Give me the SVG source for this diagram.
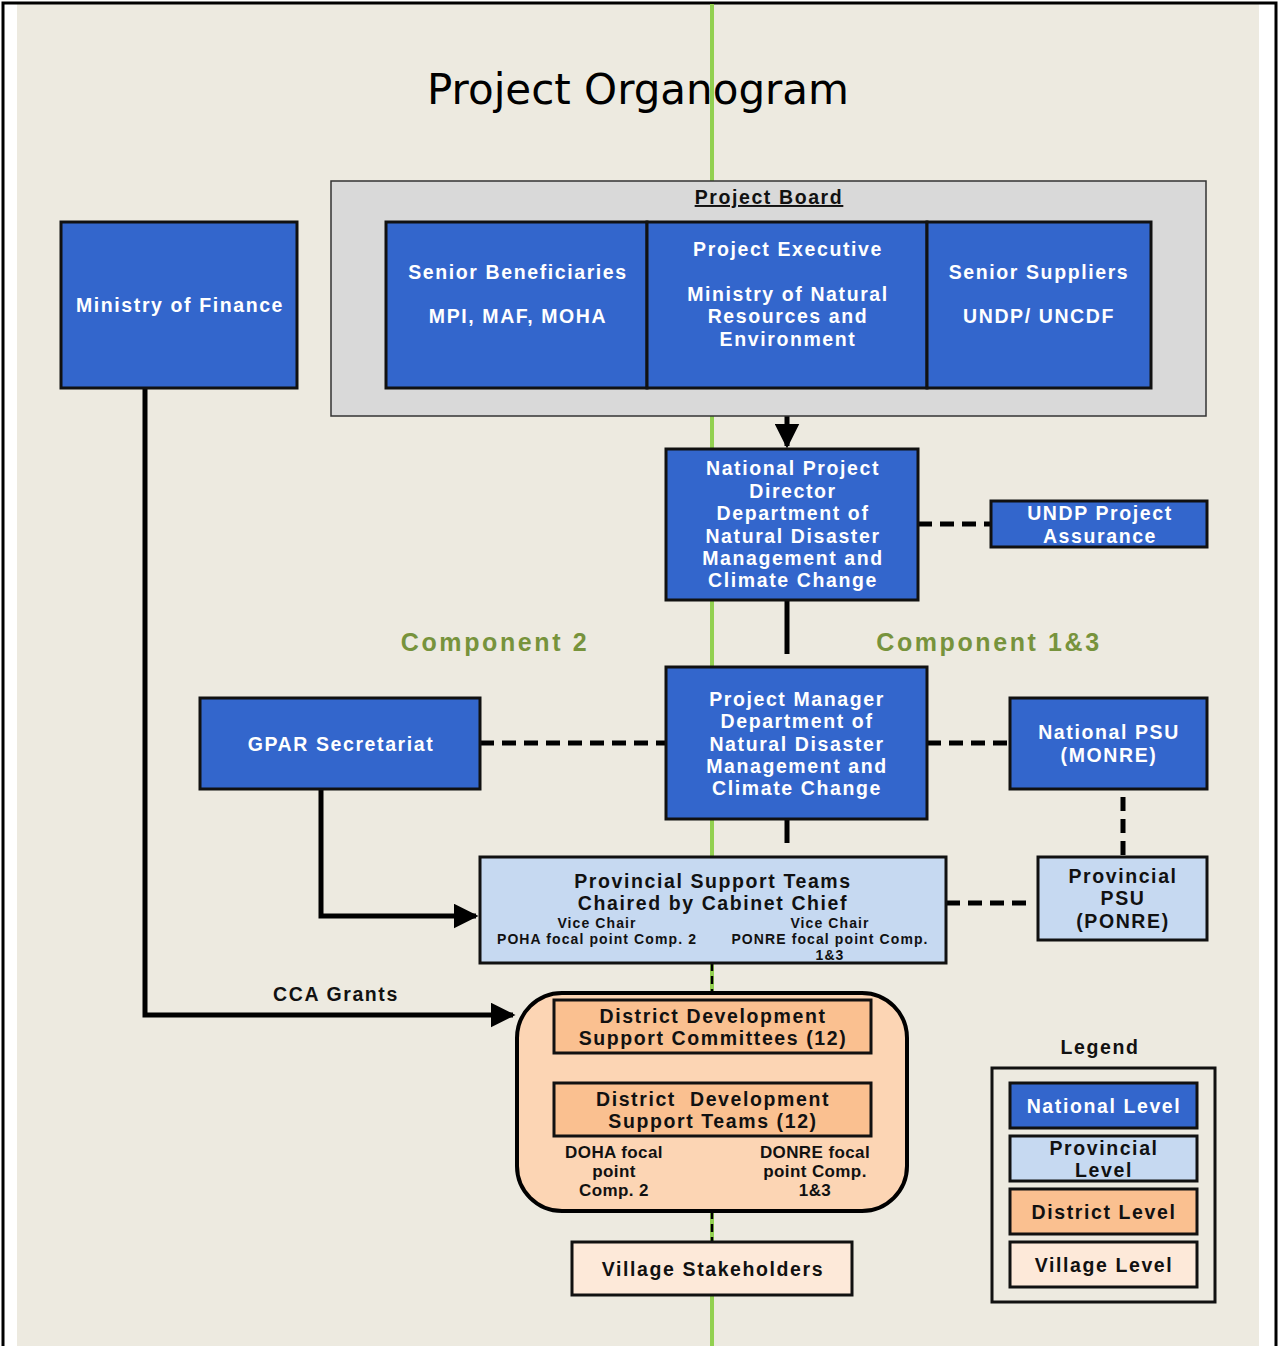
<svg xmlns="http://www.w3.org/2000/svg" width="1279" height="1346" viewBox="0 0 1279 1346">
<defs>
<style>
.t{font-family:"Liberation Sans",Arial,sans-serif;font-weight:bold;text-anchor:middle;letter-spacing:1.6px}
.w{fill:#ffffff;font-size:19.5px}
.k{fill:#111111;font-size:19.5px}
.s{fill:#111111;font-size:14px;letter-spacing:1.1px}
.f{fill:#111111;font-size:17px;letter-spacing:0.4px}
.nat{fill:#3366cc;stroke:#111;stroke-width:3}
.prov{fill:#c6d9f1;stroke:#111;stroke-width:3}
.dist{fill:#fac090;stroke:#111;stroke-width:3}
.vill{fill:#fde9d9;stroke:#111;stroke-width:3}
.solid{stroke:#000;stroke-width:5;fill:none}
.dash{stroke:#000;stroke-width:5;fill:none;stroke-dasharray:14,8}
.comp{font-family:"Liberation Sans",Arial,sans-serif;font-weight:bold;font-size:25px;fill:#77933c;text-anchor:middle;letter-spacing:2.6px}
</style>
<marker id="ah" viewBox="0 0 10 10" refX="9" refY="5" markerWidth="5" markerHeight="5" markerUnits="strokeWidth" orient="auto">
<path d="M0,0 L10,5 L0,10 z" fill="#000"/>
</marker>
</defs>
<rect x="0" y="0" width="1279" height="1346" fill="#ffffff"/>
<rect x="17" y="4" width="1242" height="1342" fill="#edeae0"/>
<path d="M3,1346 V3 H1276 V1346" fill="none" stroke="#000" stroke-width="3"/>
<line x1="712" y1="4" x2="712" y2="1346" stroke="#92d050" stroke-width="4"/>
<text x="638" y="104" font-family="DejaVu Sans,Verdana,sans-serif" font-size="42" fill="#000" text-anchor="middle">Project Organogram</text>

<g id="connectors">
<line x1="787" y1="416" x2="787" y2="446" class="solid" marker-end="url(#ah)"/>
<line x1="918" y1="524" x2="991" y2="524" class="dash"/>
<line x1="787" y1="600" x2="787" y2="654" class="solid"/>
<line x1="480" y1="743" x2="666" y2="743" class="dash"/>
<line x1="927" y1="743" x2="1010" y2="743" class="dash"/>
<line x1="787" y1="819" x2="787" y2="843" class="solid"/>
<line x1="1123" y1="797" x2="1123" y2="857" class="dash"/>
<line x1="946" y1="903" x2="1030" y2="903" class="dash"/>
<polyline points="321,789 321,916 476,916" class="solid" marker-end="url(#ah)"/>
<polyline points="145,388 145,1015 513,1015" class="solid" marker-end="url(#ah)"/>
<line x1="712" y1="963" x2="712" y2="993" stroke="#000" stroke-width="2.5" stroke-dasharray="8,5"/>
<line x1="712" y1="1053" x2="712" y2="1083" stroke="#000" stroke-width="3" stroke-dasharray="10,5"/>
<line x1="712" y1="1211" x2="712" y2="1247" stroke="#000" stroke-width="2.5" stroke-dasharray="8,5"/>
</g>
<text class="t k" x="336" y="1001">CCA Grants</text>

<g id="project-board">
<rect x="331" y="181" width="875" height="235" fill="#d9d9d9" stroke="#333" stroke-width="1.5"/>
<text class="t k" x="769" y="204" text-decoration="underline">Project Board</text>
</g>
<g id="senior-beneficiaries">
<rect x="386" y="222" width="261" height="166" class="nat"/>
<text class="t w" x="518" y="279">Senior Beneficiaries</text>
<text class="t w" x="518" y="323">MPI, MAF, MOHA</text>
</g>
<g id="project-executive">
<rect x="647" y="222" width="280" height="166" class="nat"/>
<text class="t w" x="788" y="256">Project Executive</text>
<text class="t w" x="788" y="301">Ministry of Natural</text>
<text class="t w" x="788" y="323">Resources and</text>
<text class="t w" x="788" y="346">Environment</text>
</g>
<g id="senior-suppliers">
<rect x="927" y="222" width="224" height="166" class="nat"/>
<text class="t w" x="1039" y="279">Senior Suppliers</text>
<text class="t w" x="1039" y="323">UNDP/ UNCDF</text>
</g>
<g id="ministry-of-finance">
<rect x="61" y="222" width="236" height="166" class="nat"/>
<text class="t w" x="180" y="312">Ministry of Finance</text>
</g>
<g id="npd">
<rect x="666" y="449" width="252" height="151" class="nat"/>
<text class="t w" x="793" y="475">National Project</text>
<text class="t w" x="793" y="498">Director</text>
<text class="t w" x="793" y="520">Department of</text>
<text class="t w" x="793" y="543">Natural Disaster</text>
<text class="t w" x="793" y="565">Management and</text>
<text class="t w" x="793" y="587">Climate Change</text>
</g>
<g id="undp-assurance">
<rect x="991" y="501" width="216" height="46" class="nat"/>
<text class="t w" x="1100" y="520">UNDP Project</text>
<text class="t w" x="1100" y="543">Assurance</text>
</g>
<text class="comp" x="495" y="651">Component 2</text>
<text class="comp" x="989" y="651">Component 1&amp;3</text>
<g id="project-manager">
<rect x="666" y="667" width="261" height="152" class="nat"/>
<text class="t w" x="797" y="706">Project Manager</text>
<text class="t w" x="797" y="728">Department of</text>
<text class="t w" x="797" y="751">Natural Disaster</text>
<text class="t w" x="797" y="773">Management and</text>
<text class="t w" x="797" y="795">Climate Change</text>
</g>
<g id="gpar">
<rect x="200" y="698" width="280" height="91" class="nat"/>
<text class="t w" x="341" y="751">GPAR Secretariat</text>
</g>
<g id="national-psu">
<rect x="1010" y="698" width="197" height="91" class="nat"/>
<text class="t w" x="1109" y="739">National PSU</text>
<text class="t w" x="1109" y="762">(MONRE)</text>
</g>
<g id="provincial-support-teams">
<rect x="480" y="857" width="466" height="106" class="prov"/>
<text class="t k" x="713" y="888">Provincial Support Teams</text>
<text class="t k" x="713" y="910">Chaired by Cabinet Chief</text>
<text class="t s" x="597" y="928">Vice Chair</text>
<text class="t s" x="597" y="944">POHA focal point Comp. 2</text>
<text class="t s" x="830" y="928">Vice Chair</text>
<text class="t s" x="830" y="944">PONRE focal point Comp.</text>
<text class="t s" x="830" y="960">1&amp;3</text>
</g>
<g id="provincial-psu">
<rect x="1038" y="857" width="169" height="83" class="prov"/>
<text class="t k" x="1123" y="883">Provincial</text>
<text class="t k" x="1123" y="905">PSU</text>
<text class="t k" x="1123" y="928">(PONRE)</text>
</g>
<g id="district">
<rect x="517" y="993" width="390" height="218" rx="45" ry="45" fill="#fcd5b4" stroke="#000" stroke-width="4"/>
<text class="t f" x="614" y="1158">DOHA focal</text>
<text class="t f" x="614" y="1177">point</text>
<text class="t f" x="614" y="1196">Comp. 2</text>
<text class="t f" x="815" y="1158">DONRE focal</text>
<text class="t f" x="815" y="1177">point Comp.</text>
<text class="t f" x="815" y="1196">1&amp;3</text>
</g>
<g id="ddsc">
<rect x="554" y="1000" width="317" height="53" class="dist"/>
<text class="t k" x="713" y="1023">District Development</text>
<text class="t k" x="713" y="1045">Support Committees (12)</text>
</g>
<g id="ddst">
<rect x="554" y="1083" width="317" height="53" class="dist"/>
<text class="t k" x="713" y="1106" xml:space="preserve">District  Development</text>
<text class="t k" x="713" y="1128">Support Teams (12)</text>
</g>
<g id="village">
<rect x="572" y="1242" width="280" height="53" class="vill"/>
<text class="t k" x="713" y="1276">Village Stakeholders</text>
</g>
<g id="legend">
<text class="t k" x="1100" y="1054">Legend</text>
<rect x="992" y="1068" width="223" height="234" fill="none" stroke="#111" stroke-width="3"/>
<rect x="1010" y="1083" width="187" height="45" class="nat"/>
<text class="t w" x="1104" y="1113">National Level</text>
<rect x="1010" y="1136" width="187" height="45" class="prov"/>
<text class="t k" x="1104" y="1155">Provincial</text>
<text class="t k" x="1104" y="1177">Level</text>
<rect x="1010" y="1189" width="187" height="45" class="dist"/>
<text class="t k" x="1104" y="1219">District Level</text>
<rect x="1010" y="1242" width="187" height="45" class="vill"/>
<text class="t k" x="1104" y="1272">Village Level</text>
</g>
</svg>
